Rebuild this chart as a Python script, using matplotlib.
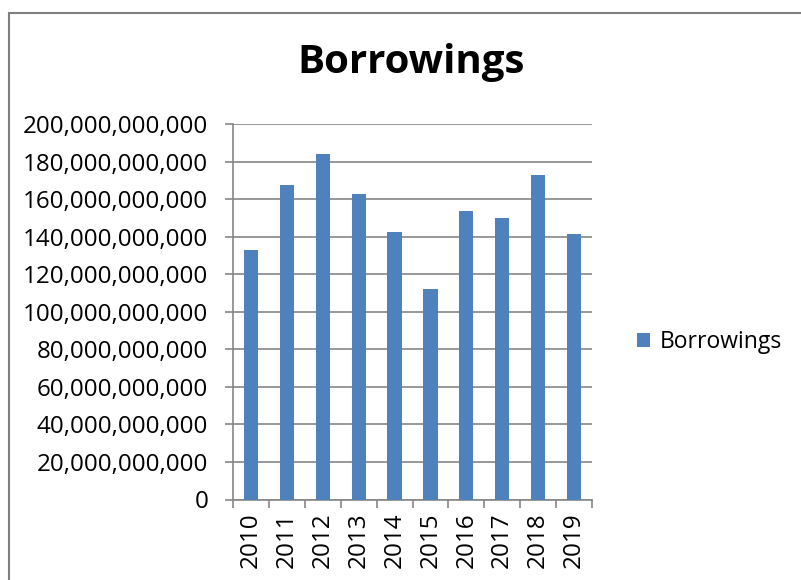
import matplotlib.pyplot as plt
from matplotlib.patches import Rectangle
from matplotlib.ticker import FuncFormatter, MultipleLocator
import numpy as np

plt.rcParams['font.family'] = ['Open Sans', 'DejaVu Sans']

# data
years = ['2010', '2011', '2012', '2013', '2014', '2015', '2016', '2017', '2018', '2019']
borrowings = [132.7e9, 167.3e9, 183.9e9, 162.9e9, 142.3e9, 112.1e9, 153.7e9, 150.1e9, 172.8e9, 141.2e9]

blue = '#4F81BD'
grey = '#868686'

fig = plt.figure(figsize=(8.01, 5.80), dpi=100)

# chart border like excel
fig.patches.append(Rectangle((8.5 / 801, -0.1), 1.2, 1.1 - 12.5 / 580,
                             transform=fig.transFigure, fill=False,
                             edgecolor='#7F7F7F', linewidth=1.5))

ax = fig.add_axes([233.3 / 801, 1 - 499.5 / 580, (591.7 - 233.3) / 801, (499.5 - 124) / 580])

x = np.arange(len(years))
ax.bar(x, borrowings, width=0.4, color=blue, label='Borrowings', zorder=3)

ax.set_xlim(-0.5, len(years) - 0.5)
ax.set_ylim(0, 200e9)
ax.yaxis.set_major_locator(MultipleLocator(20e9))
ax.yaxis.set_major_formatter(FuncFormatter(lambda v, p: f'{v:,.0f}'))
ax.grid(axis='y', color=grey, linewidth=1.2, zorder=0)

ax.set_xticks(x)
ax.set_xticklabels(years, rotation=90)
ax.set_xticks(np.arange(-0.5, len(years)), minor=True)
ax.tick_params(axis='x', which='major', length=0, pad=9, labelsize=17.5)
ax.tick_params(axis='x', which='minor', length=6, width=1.2, color=grey)
ax.tick_params(axis='y', length=6, width=1.2, color=grey, labelsize=17.4, pad=12)

for s in ['top', 'right']:
    ax.spines[s].set_visible(False)
for s in ['left', 'bottom']:
    ax.spines[s].set_color(grey)
    ax.spines[s].set_linewidth(1.2)

fig.text(411 / 801, 1 - 62 / 580, 'Borrowings', ha='center', va='center',
         fontsize=29, fontweight='bold')

ax.legend(loc='center left', bbox_to_anchor=(616 / 801, 1 - 342 / 580),
          bbox_transform=fig.transFigure, frameon=False, fontsize=16.5,
          handlelength=0.6, handleheight=0.6, handletextpad=0.4)

fig.savefig('out.png', dpi=100)
